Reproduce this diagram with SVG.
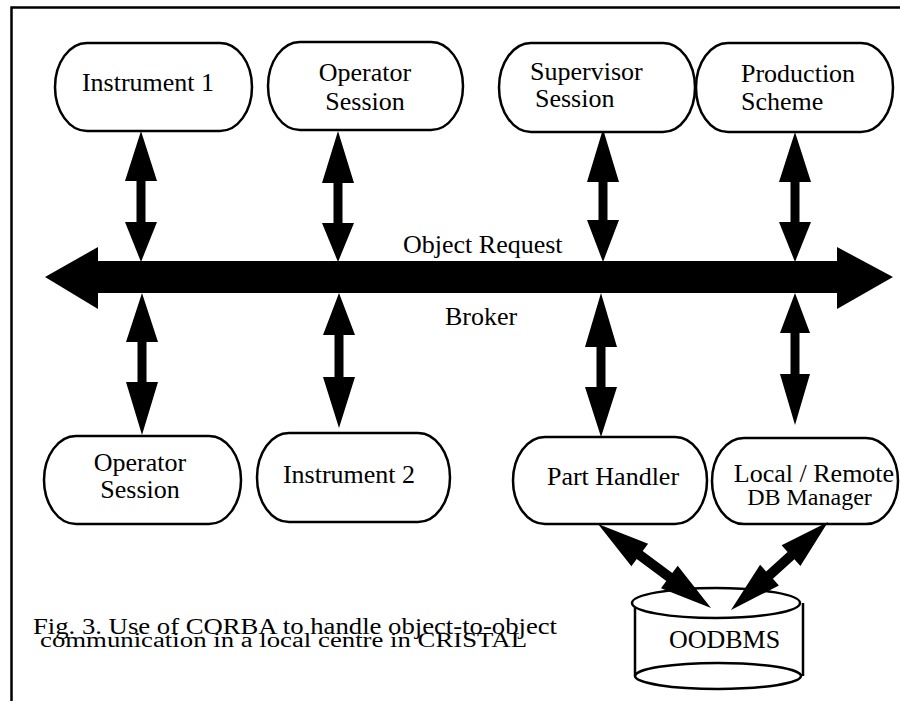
<svg xmlns="http://www.w3.org/2000/svg" width="900" height="701" viewBox="0 0 900 701">
<style>
.node{fill:#fff;stroke:#000;stroke-width:2.5}
.t{font-family:"Liberation Serif","Times New Roman",serif;font-size:26px;fill:#000}
.m{text-anchor:middle}
.arr{fill:#000;stroke:none}
.frame{fill:none;stroke:#000;stroke-width:2.5}
</style>
<rect width="900" height="701" fill="#fff"/>
<path class="frame" d="M11.5,701 L11.5,7.5 L900,7.5"/>

<g id="connectors">
<path id="bus" class="arr" d="M45,277 L98,247 L98,261 L837,261 L837,247 L893,277 L837,309 L837,293 L98,293 L98,309 Z"/>
<path class="arr" d="M141,131 L157,181 L145.5,181 L145.5,222 L157,222 L141,262 L125,222 L136.5,222 L136.5,181 L125,181 Z"/>
<path class="arr" d="M338,131 L354,183 L342.5,183 L342.5,223 L354,223 L338,262 L322,223 L333.5,223 L333.5,183 L322,183 Z"/>
<path class="arr" d="M603,129 L619,182 L607.5,182 L607.5,220 L619,220 L603,262 L587,220 L598.5,220 L598.5,182 L587,182 Z"/>
<path class="arr" d="M795,132 L811,182 L799.5,182 L799.5,222 L811,222 L795,262 L779,222 L790.5,222 L790.5,182 L779,182 Z"/>
<path class="arr" d="M142,293 L158,342 L146.5,342 L146.5,382 L158,382 L142,435 L126,382 L137.5,382 L137.5,342 L126,342 Z"/>
<path class="arr" d="M339,293 L355,335 L343.5,335 L343.5,377 L355,377 L339,428 L323,377 L334.5,377 L334.5,335 L323,335 Z"/>
<path class="arr" d="M601,293 L617,347 L605.5,347 L605.5,387 L617,387 L601,437 L585,387 L596.5,387 L596.5,347 L585,347 Z"/>
<path class="arr" d="M795,293 L810,333 L799.5,333 L799.5,374 L810,374 L795,425 L780,374 L790.5,374 L790.5,333 L780,333 Z"/>
</g>

<g id="instrument1">
<rect class="node" x="55" y="43" width="197" height="88" rx="32" ry="44"/>
<text class="t m" x="148" y="91">Instrument 1</text>
</g>
<g id="operator-session-top">
<rect class="node" x="268" y="42" width="195" height="88" rx="32" ry="44"/>
<text class="t m" x="365" y="81">Operator</text>
<text class="t m" x="365" y="110">Session</text>
</g>
<g id="supervisor-session">
<rect class="node" x="499" y="43" width="196" height="89" rx="32" ry="44.5"/>
<text class="t" x="530" y="80">Supervisor</text>
<text class="t" x="535" y="107">Session</text>
</g>
<g id="production-scheme">
<rect class="node" x="696" y="43" width="197" height="89" rx="32" ry="44.5"/>
<text class="t" x="741" y="82">Production</text>
<text class="t" x="741" y="110">Scheme</text>
</g>
<g id="operator-session-bottom">
<rect class="node" x="44" y="436" width="197" height="88" rx="32" ry="44"/>
<text class="t m" x="140" y="471">Operator</text>
<text class="t m" x="140" y="498">Session</text>
</g>
<g id="instrument2">
<rect class="node" x="257" y="433" width="193" height="89" rx="32" ry="44.5"/>
<text class="t m" x="349" y="483">Instrument 2</text>
</g>
<g id="part-handler">
<rect class="node" x="513" y="437" width="194" height="87" rx="32" ry="43.5"/>
<text class="t m" x="613" y="485">Part Handler</text>
</g>
<g id="db-manager">
<rect class="node" x="712" y="438" width="186" height="86" rx="32" ry="43"/>
<text class="t m" x="814" y="482">Local / Remote</text>
<text class="t m" x="809.5" y="505" style="font-size:24px">DB Manager</text>
</g>

<g id="oodbms">
<ellipse class="node" cx="718" cy="676" rx="83" ry="13"/>
<line x1="635" y1="606" x2="635" y2="676" stroke="#000" stroke-width="2.5"/>
<line x1="803" y1="603" x2="803" y2="676" stroke="#000" stroke-width="2.5"/>
<ellipse class="node" cx="716" cy="603" rx="84" ry="15"/>
<text class="t m" x="724.5" y="648">OODBMS</text>
</g>

<g id="db-connectors">
<path class="arr" d="M598,524 L648.1,543.8 L642.7,551.0 L672.3,573.0 L677.7,565.8 L711,608 L661.0,588.2 L666.3,581.0 L636.7,559.0 L631.4,566.2 Z"/>
<path class="arr" d="M828,522 L800.4,566.0 L794.4,559.3 L772.9,578.8 L778.9,585.5 L731,610 L760.1,564.7 L766.1,571.4 L787.6,551.9 L781.6,545.2 Z"/>
</g>

<g id="bus-labels">
<text class="t" x="403" y="253">Object Request</text>
<text class="t" x="445" y="325">Broker</text>
</g>

<g id="caption">
<text class="t" x="33" y="634" style="font-size:24px" textLength="524" lengthAdjust="spacingAndGlyphs">Fig. 3. Use of CORBA to handle object-to-object</text>
<text class="t" x="40" y="647" style="font-size:20.5px" textLength="487" lengthAdjust="spacingAndGlyphs">communication in a local centre in CRISTAL</text>
</g>
</svg>
